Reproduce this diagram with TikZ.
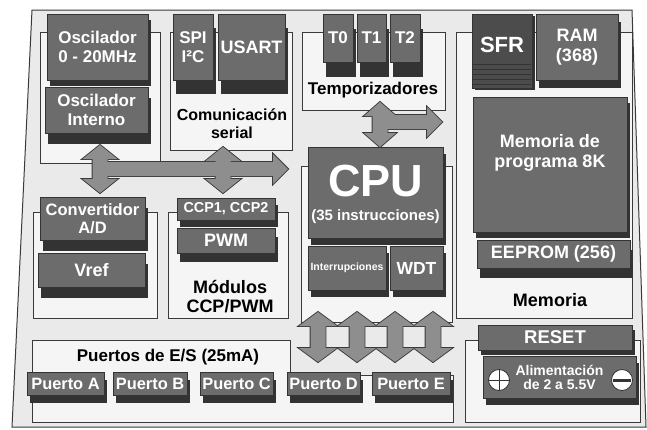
\documentclass[tikz,border=0pt]{standalone}
\usepackage{fontspec}
\setmainfont{Liberation Sans}
\usetikzlibrary{shadows}
\definecolor{framegray}{HTML}{EAEAEA}
\definecolor{groupgray}{HTML}{F5F5F5}
\definecolor{blockgray}{HTML}{6C6C6C}
\definecolor{blockdark}{HTML}{333333}
\definecolor{sfrgray}{HTML}{4C4C4C}
\definecolor{arrowgray}{HTML}{8E8E8E}
\definecolor{inkgray}{HTML}{3A3A3A}

% block arrows: x, top tip, bottom tip, half head width / left end, tip, y
\newcommand{\vbus}[4]{(#1-7.5,#2+14) -- (#1-#4,#2+14) -- (#1,#2) -- (#1+#4,#2+14) -- (#1+7.5,#2+14) -- (#1+7.5,#3-14) -- (#1+#4,#3-14) -- (#1,#3) -- (#1-#4,#3-14) -- (#1-7.5,#3-14) -- cycle}
\newcommand{\hbus}[3]{(#1,#3-7) -- (#2-15,#3-7) -- (#2-15,#3-15) -- (#2,#3) -- (#2-15,#3+15) -- (#2-15,#3+7) -- (#1,#3+7) -- cycle}

\begin{document}
\begin{tikzpicture}[
    x=1pt, y=-1pt,
    font=\bfseries\fontsize{17}{19}\selectfont,
    frame/.style={draw=inkgray, fill=framegray, line width=1pt},
    group/.style={draw=inkgray, fill=groupgray, line width=0.8pt},
    blk/.style={fill=blockgray, draw=blockdark, line width=0.5pt, text=white, align=center, inner sep=0pt,
        general shadow={fill=blockdark, shadow xshift=3pt, shadow yshift=-#1}},
    blk/.default=10pt,
    blktext/.style={text=white, align=center, inner sep=0pt},
    caption/.style={text=black, align=center, inner sep=0pt},
    pole/.style={circle, draw=blockdark, fill=white, line width=0.8pt, minimum size=21pt, inner sep=0pt},
    busline/.style={draw=inkgray, line width=1.8pt, fill=arrowgray},
    busfill/.style={fill=arrowgray},
]
    \useasboundingbox (0,0) rectangle (647,429);

    % =====================================================================
    % FRAME AND GROUPS
    % =====================================================================
    \draw[frame] (32,10) -- (632,10) -- (646,427) -- (12,427) -- cycle;

    \draw[group] (40,32) rectangle (160,163);
    \draw[group] (170,32) rectangle (292,150);
    \draw[group] (302,32) rectangle (445,110);
    \draw[group] (456,32) rectangle (632,318);
    \draw[group] (33,212) rectangle (157,318);
    \draw[group] (168,212) rectangle (288,318);
    \draw[group] (301,166) rectangle (452,322);
    \draw[group] (465,340) rectangle (640,422);
    \draw[group] (32,340) -- (290,340) -- (290,375) -- (453,375) -- (453,422) -- (32,422) -- cycle;

    \node[caption, font=\bfseries\fontsize{16}{18}\selectfont] (comlbl) at (232,124) {Comunicación\\serial};
    \node[caption] (templbl) at (373,90) {Temporizadores};
    \node[caption, font=\bfseries\fontsize{18}{19}\selectfont] (ccplbl) at (230,297) {Módulos\\CCP/PWM};
    \node[caption, font=\bfseries\fontsize{18}{19}\selectfont] (memlbl) at (550,300) {Memoria};
    \node[caption] (portlbl) at (168,357) {Puertos de E/S (25mA)};

    % =====================================================================
    % OSCILLATORS AND SERIAL
    % =====================================================================
    \node[blk=6pt, minimum width=101pt, minimum height=66pt] (osc) at (97.5,47) {Oscilador\\0 - 20MHz};
    \node[blk=11pt, minimum width=103pt, minimum height=46pt] (oscint) at (96.5,110) {Oscilador\\Interno};

    \node[blk=14pt, minimum width=40pt, minimum height=66pt] (spi) at (193,47) {SPI\\I²C};
    \node[blk=14pt, minimum width=67pt, minimum height=66pt, font=\bfseries\fontsize{18}{19}\selectfont] (usart) at (251.5,47) {USART};

    % =====================================================================
    % TIMERS
    % =====================================================================
    \node[blk=15pt, minimum width=30pt, minimum height=48pt] (t0) at (338,38) {T0};
    \node[blk=15pt, minimum width=29pt, minimum height=48pt] (t1) at (371.5,38) {T1};
    \node[blk=15pt, minimum width=30pt, minimum height=48pt] (t2) at (405,38) {T2};

    % =====================================================================
    % MEMORY
    % =====================================================================
    \node[blk=2pt, fill=sfrgray, minimum width=60pt, minimum height=74pt] (sfr) at (502,51) {};
    \foreach \yy in {64,69,74,79,84}
        \draw[blockdark, line width=0.7pt] (473,\yy) -- (531,\yy);
    \node[blktext, font=\bfseries\fontsize{22}{24}\selectfont] (sfrtxt) at (502,45) {SFR};
    \node[blk=8pt, minimum width=82pt, minimum height=66pt, font=\bfseries\fontsize{18}{20}\selectfont] (ram) at (577,47) {RAM\\(368)};
    \node[blk=6pt, minimum width=154pt, minimum height=135pt] (memprog) at (550,164.5) {};
    \node[blktext, font=\bfseries\fontsize{18}{20}\selectfont] (memtxt) at (550,153) {Memoria de\\programa 8K};
    \node[blk=10pt, minimum width=153pt, minimum height=28pt, font=\bfseries\fontsize{18}{20}\selectfont] (eeprom) at (553.5,254) {EEPROM (256)};

    % =====================================================================
    % A/D AND CCP
    % =====================================================================
    \node[blk=11pt, minimum width=105pt, minimum height=43pt, font=\bfseries\fontsize{16.5}{18}\selectfont] (adc) at (92.5,218.5) {Convertidor\\A/D};
    \node[blk=11pt, minimum width=107pt, minimum height=34pt, font=\bfseries\fontsize{18}{20}\selectfont] (vref) at (91.5,270) {Vref};
    \node[blk=7pt, minimum width=98pt, minimum height=22pt, font=\bfseries\fontsize{14.4}{16}\selectfont] (ccp) at (226,209) {CCP1, CCP2};
    \node[blk=9pt, minimum width=98pt, minimum height=25pt, font=\bfseries\fontsize{18}{20}\selectfont] (pwm) at (226,240.5) {PWM};

    % =====================================================================
    % CPU
    % =====================================================================
    \node[blk=7pt, minimum width=135pt, minimum height=91pt] (cpu) at (375.5,192.5) {};
    \node[blktext, font=\bfseries\fontsize{45}{45}\selectfont] (cputxt) at (375.5,181) {CPU};
    \node[blktext, font=\bfseries\fontsize{15}{17}\selectfont] (cpusub) at (375.5,217) {(35 instrucciones)};
    \node[blk=7pt, minimum width=78pt, minimum height=44pt, font=\bfseries\fontsize{10.5}{12}\selectfont] (intr) at (347,268) {Interrupciones};
    \node[blk=7pt, minimum width=53pt, minimum height=44pt, font=\bfseries\fontsize{17.5}{19}\selectfont] (wdt) at (416.5,268) {WDT};

    % =====================================================================
    % RESET / POWER
    % =====================================================================
    \node[blk=5pt, minimum width=154pt, minimum height=25pt, font=\bfseries\fontsize{18.5}{20}\selectfont] (reset) at (555,337.5) {RESET};
    \node[blk=7pt, minimum width=153pt, minimum height=42pt, font=\bfseries\fontsize{14}{14}\selectfont] (alim) at (559.5,377) {Alimentación\\de 2 a 5.5V};
    \node[pole] (plus) at (499,380) {};
    \node[pole] (minus) at (622,380) {};
    \draw[blockdark, line width=1pt] (plus.north) -- (plus.south) (plus.west) -- (plus.east);
    \draw[blockdark, line width=3pt] ([xshift=2pt]minus.west) -- ([xshift=-2pt]minus.east);

    % =====================================================================
    % I/O PORTS
    % =====================================================================
    \foreach \name/\xx/\ww in {A/65.5/77, B/150/74, C/236.5/73, D/323.5/73, E/411/78}
        \node[blk=8pt, minimum width=\ww pt, minimum height=23pt, font=\bfseries\fontsize{16.4}{18}\selectfont] (port\name) at (\xx,383.5) {Puerto \name};

    % =====================================================================
    % BUS ARROWS (outline pass, then fill pass)
    % =====================================================================
    \foreach \pass in {busline,busfill} {
        \path[\pass] \vbus{100}{145}{193}{17.5};
        \path[\pass] \vbus{223}{147}{193}{17.5};
        \path[\pass] \hbus{93}{288}{169};
        \path[\pass] \vbus{380}{102}{147}{16};
        \path[\pass] \hbus{380}{442}{122};
        \foreach \xx in {318,357,395,433}
            \path[\pass] \vbus{\xx}{312}{362}{19};
    }

\end{tikzpicture}
\end{document}
